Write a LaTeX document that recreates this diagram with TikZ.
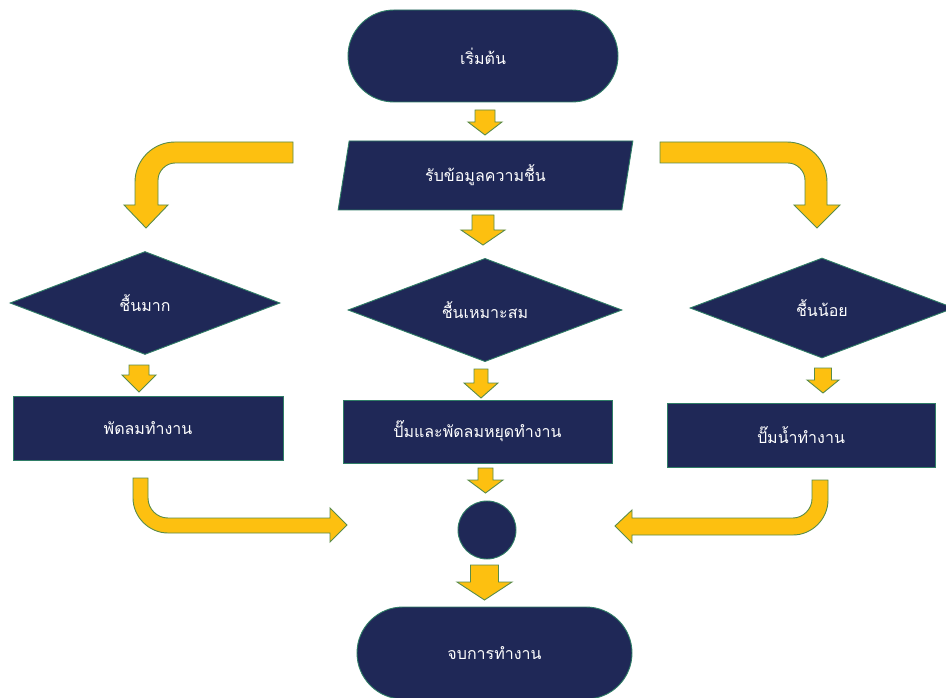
\documentclass[tikz,border=0pt]{standalone}
\usepackage{fontspec}
\newfontfamily\thaifont[Script=Thai]{Loma}
\usetikzlibrary{shapes.geometric,shapes.misc}
\definecolor{navy}{HTML}{1F2857}
\definecolor{nodeedge}{HTML}{2F7D66}
\definecolor{arrowfill}{HTML}{FDC010}
\definecolor{arrowedge}{HTML}{5A8C4A}
\tikzset{
  flowbox/.style={draw=nodeedge, fill=navy, line width=0.9pt, text=white, inner sep=0pt,
    font=\thaifont\fontsize{16}{18}\selectfont},
  termbox/.style={flowbox, rounded rectangle, minimum width=270pt, minimum height=92pt},
  procbox/.style={flowbox, rectangle, minimum height=64pt},
  decbox/.style={flowbox, diamond},
  iobox/.style={flowbox, trapezium, trapezium left angle=77, trapezium right angle=103,
    trapezium stretches=true, minimum width=295pt, minimum height=69pt},
  joinbox/.style={flowbox, circle, minimum size=58pt},
  blockarrow/.style={draw=arrowedge, fill=arrowfill, line width=0.9pt, line join=miter}
}
\newcommand\blkdown[6]{\draw[blockarrow] (#1-#3,#2) -- (#1+#3,#2) -- (#1+#3,#4) -- (#1+#5,#4) -- (#1,#6) -- (#1-#5,#4) -- (#1-#3,#4) -- cycle;}
\begin{document}
\begin{tikzpicture}[x=1pt,y=-1pt]
\useasboundingbox (0,0) rectangle (946,698);
% nodes
\node[termbox] (start) at (483,56) {เริ่มต้น};
\node[iobox] (input) at (485.5,175.5) {รับข้อมูลความชื้น};
\node[decbox, minimum width=270pt, minimum height=103pt] (high) at (145,303) {ชื้นมาก};
\node[decbox, minimum width=274pt, minimum height=103pt] (mid) at (485,310) {ชื้นเหมาะสม};
\node[decbox, minimum width=264pt, minimum height=100pt] (low) at (822,308) {ชื้นน้อย};
\node[procbox, minimum width=270pt] (fan) at (148,428) {พัดลมทำงาน};
\node[procbox, minimum width=269pt, minimum height=63pt] (stop) at (477.5,431.5) {ปั๊มและพัดลมหยุดทำงาน};
\node[procbox, minimum width=268pt] (pump) at (801,435) {ปั๊มน้ำทำงาน};
\node[joinbox] (join) at (487,530) {};
\node[termbox, minimum width=275pt] (finish) at (494.5,653) {จบการทำงาน};
% straight block arrows
\blkdown{485}{110}{10}{122}{17}{135}
\blkdown{483}{215}{11}{230}{22}{245}
\blkdown{139}{365}{10}{375}{17}{392}
\blkdown{481}{369}{7}{383}{17}{398}
\blkdown{823}{368}{8.5}{380}{16}{393}
\blkdown{485.5}{468}{7.5}{480}{17.5}{493}
\blkdown{484.5}{565}{14}{582}{27.5}{600}
% bent block arrows (top)
\draw[blockarrow] (293,142) -- (175,142) .. controls (153,142) and (135,160) .. (135,182)
  -- (135,205) -- (124,205) -- (146,228) -- (168,205) -- (158,205) -- (158,180)
  .. controls (158,171) and (166,163) .. (175,163) -- (293,163) -- cycle;
\draw[blockarrow] (660,142) -- (787,142) .. controls (809,142) and (827,160) .. (827,182)
  -- (827,205) -- (840,205) -- (817,228) -- (794,205) -- (805,205) -- (805,180)
  .. controls (805,171) and (797,163) .. (788,163) -- (660,163) -- cycle;
% bent block arrows (bottom)
\draw[blockarrow] (133,478) -- (133,498) .. controls (133,517) and (149,533) .. (168,533)
  -- (330,533) -- (330,542) -- (347,525) -- (330,508) -- (330,518) -- (168,518)
  .. controls (157,518) and (148,509) .. (148,498) -- (148,478) -- cycle;
\draw[blockarrow] (828,480) -- (828,500) .. controls (828,519) and (812,535) .. (793,535)
  -- (632,535) -- (632,543) -- (615,526) -- (632,510) -- (632,518) -- (793,518)
  .. controls (803,518) and (812,509) .. (812,499) -- (812,480) -- cycle;
\end{tikzpicture}
\end{document}
